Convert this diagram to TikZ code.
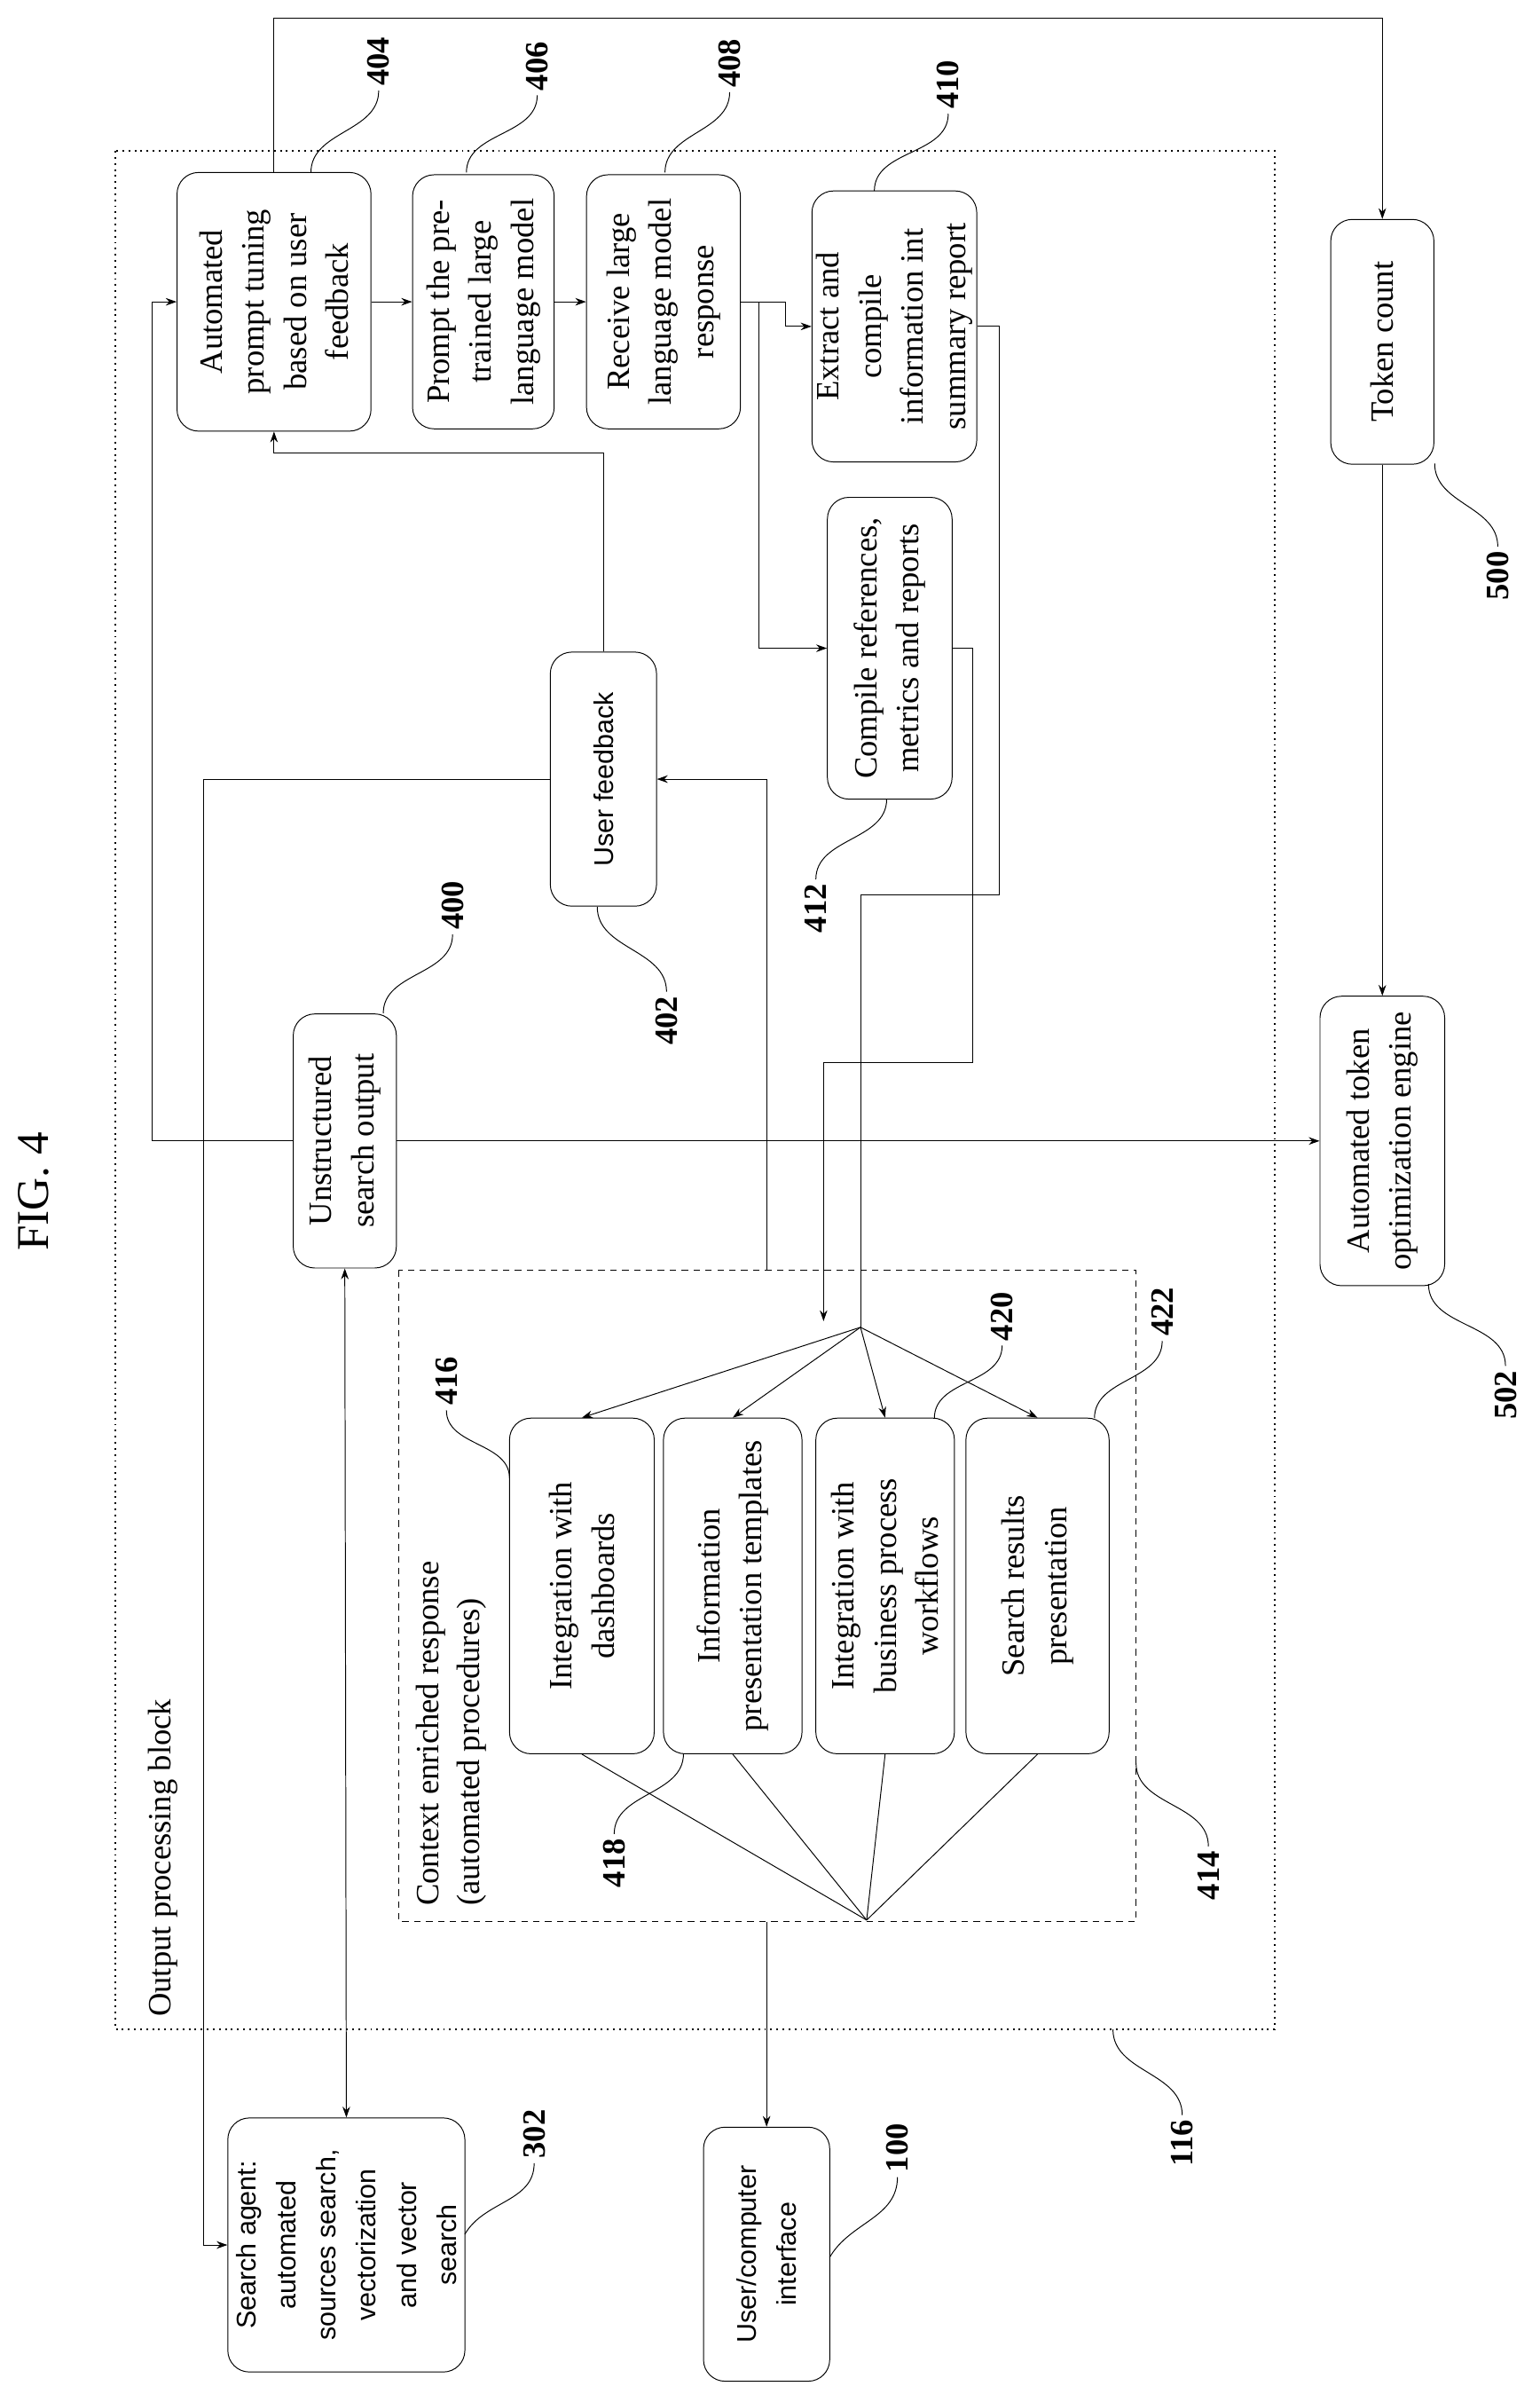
\documentclass[tikz,border=0pt]{standalone}
\usepackage{fontspec}
\setmainfont{Liberation Serif}
\setsansfont{Liberation Sans}
\usetikzlibrary{arrows.meta, calc}

\begin{document}
\begin{tikzpicture}[x=0.25mm, y=0.25mm, >={Stealth[length=5pt, width=3.5pt]},
            box/.style={draw, rounded corners=3.5mm, rotate=90, align=center, inner sep=2pt,
                font=\fontsize{15}{19.5}\selectfont},
            sbox/.style={box, font=\sffamily\fontsize{12.5}{18.5}\selectfont},
            sz/.style 2 args={minimum width=#2*0.25mm, minimum height=#1*0.25mm},
            num/.style={rotate=90, inner sep=2pt, font=\bfseries\fontsize{15}{18}\selectfont},
            lead/.style={thin}
            ]
            \useasboundingbox (0,0) rectangle (1000,-1560);

            \node[rotate=90, font=\fontsize{21}{24}\selectfont] (fig) at (22,-774) {FIG. 4};

            \draw[dotted, thick] (75,-98) rectangle (828,-1318);
            \draw[dash pattern=on 3pt off 2.5pt] (259,-825) rectangle (738,-1248);
            \node[rotate=90, anchor=north west, inner sep=0pt, font=\fontsize{15}{19}\selectfont] (ttl116) at (96,-1310) {Output processing block};
            \node[rotate=90, anchor=north west, inner sep=0pt, align=left, font=\fontsize{15}{19}\selectfont] (ttl414) at (270,-1238) {Context enriched response\\(automated procedures)};

            \node[box, sz={126}{168}] (B404) at (178,-196) {Automated\\prompt tuning\\based on user\\feedback};
            \node[box, sz={92}{165}] (B406) at (314,-196) {Prompt the pre-\\trained large\\language model};
            \node[box, sz={100}{165}] (B408) at (431,-196) {Receive large\\language model\\response};
            \node[box, sz={100}{176}] (B410) at (581,-212) {Extract and\\compile\\information int\\summary report};
            \node[box, sz={67}{159}] (B500) at (898,-222) {Token count};
            \node[box, sz={81}{196}] (B412) at (578,-421) {Compile references,\\metrics and reports};
            \node[sbox, sz={69}{165}] (B402) at (392,-506) {User feedback};
            \node[box, sz={67}{165}] (B400) at (224,-741) {Unstructured\\search output};
            \node[box, sz={81}{188}] (B502) at (898,-741) {Automated token\\optimization engine};
            \node[box, sz={94}{218}] (B416) at (378,-1030) {Integration with\\dashboards};
            \node[box, sz={90}{218}] (B418) at (476,-1030) {Information\\presentation templates};
            \node[box, sz={90}{218}] (B420) at (575,-1030) {Integration with\\business process\\workflows};
            \node[box, sz={93}{218}] (B422) at (674,-1030) {Search results\\presentation};
            \node[sbox, sz={154}{165}] (B302) at (225,-1458) {Search agent:\\automated\\sources search,\\vectorization\\and vector\\search};
            \node[sbox, sz={82}{165}] (B100) at (498,-1464) {User/computer\\interface};

            \coordinate (HubT) at (559,-862);
            \coordinate (HubB) at (563,-1247);
            \coordinate (InT) at (535,-858);
            \coordinate (F414top) at (498,-825);
            \coordinate (F414bot) at (498,-1248);
            \coordinate (LeftA) at (99,-741);
            \coordinate (LeftB) at (132,-1458);

            \draw[->] (B404.east) -- ++(0,100) -| (B500.east);
            \draw[->] (B404.south) -- (B406.north);
            \draw[->] (B406.south) -- (B408.north);
            \draw[->] (B408.south) -- ++(29,0) |- (B410.north);
            \draw[->] ($(B408.south)+(12,0)$) |- (B412.north);
            \draw (B410.south) -| (649,-581) -| (HubT);
            \draw[->] (B412.south) -| (632,-690) -| (InT);
            \foreach \b in {416,418,420,422} {
                \draw[->] (HubT) -- (B\b.east);
                \draw (B\b.west) -- (HubB);
            }
            \draw[->] (F414bot) -- (B100.east);
            \draw[->] (F414top) |- (B402.south);
            \draw[->] (B402.east) -- ++(0,129) -| (B404.west);
            \draw[->] (B402.north) -| (LeftB) -- (B302.north);
            \draw[->] (B400.north) -- (LeftA) |- (B404.north);
            \draw[->] (B400.south) -- (B502.north);
            \draw[<->] (B400.west) -- (B302.east);
            \draw[->] (B500.west) -- (B502.east);

            \node[num] (L404) at (246,-40) {404};
            \node[num] (L406) at (349,-43) {406};
            \node[num] (L408) at (474,-41) {408};
            \node[num] (L410) at (616,-55) {410};
            \node[num] (L500) at (973,-374) {500};
            \node[num] (L502) at (978,-906) {502};
            \node[num] (L412) at (530,-590) {412};
            \node[num] (L402) at (433,-663) {402};
            \node[num] (L400) at (294,-588) {400};
            \node[num] (L416) at (290,-897) {416};
            \node[num] (L418) at (399,-1210) {418};
            \node[num] (L420) at (651,-855) {420};
            \node[num] (L422) at (755,-852) {422};
            \node[num] (L414) at (785,-1218) {414};
            \node[num] (L116) at (768,-1392) {116};
            \node[num] (L100) at (583,-1395) {100};
            \node[num] (L302) at (347,-1386) {302};

            \draw[lead] (202,-112) to[out=90, in=-90] (L404.west);
            \draw[lead] (303,-112) to[out=90, in=-90] (L406.west);
            \draw[lead] (432,-112) to[out=90, in=-90] (L408.west);
            \draw[lead] (568,-124) to[out=90, in=-90] (L410.west);
            \draw[lead] (932,-301) to[out=-90, in=90] (L500.east);
            \draw[lead] (928,-834) to[out=-90, in=90] (L502.east);
            \draw[lead] (576,-519) to[out=-90, in=90] (L412.east);
            \draw[lead] (388,-589) to[out=-90, in=90] (L402.east);
            \draw[lead] (249,-658) to[out=90, in=-90] (L400.west);
            \draw[lead] (331,-960) to[out=90, in=-90] (L416.west);
            \draw[lead] (444,-1139) to[out=-90, in=90] (L418.east);
            \draw[lead] (607,-921) to[out=90, in=-90] (L420.west);
            \draw[lead] (711,-921) to[out=90, in=-90] (L422.west);
            \draw[lead] (738,-1145) to[out=-90, in=90] (L414.east);
            \draw[lead] (723,-1318) to[out=-90, in=90] (L116.east);
            \draw[lead] (539,-1466) to[out=60, in=-90] (L100.west);
            \draw[lead] (302,-1451) to[out=60, in=-90] (L302.west);
        \end{tikzpicture}
\end{document}
